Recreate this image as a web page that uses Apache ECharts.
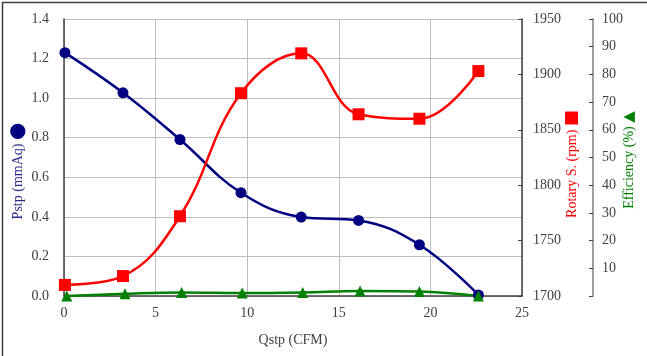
<!DOCTYPE html>
<html>
<head>
<meta charset="utf-8">
<script src="https://cdn.jsdelivr.net/npm/echarts@6/dist/echarts.min.js"></script>
<style>
html,body{margin:0;padding:0;background:#fff;}
#chart{width:647px;height:356px;}
</style>
</head>
<body>
<div id="chart"></div>
<script>
// Data
var qstp = [0.05, 3.22, 6.33, 9.66, 12.95, 16.08, 19.4, 22.62];
var qstpEff = [0.15, 3.33, 6.42, 9.73, 13.03, 16.16, 19.4, 22.62];
var pstp = [1.23, 1.027, 0.791, 0.522, 0.399, 0.382, 0.259, 0.005];
var rotary = [1710, 1718, 1772, 1883, 1919, 1864, 1860, 1903];
var efficiency = [0.0, 0.8, 1.3, 1.1, 1.3, 1.8, 1.6, 0.0];

var xTicks = {min: 0, max: 25, interval: 5};
var pTicks = {min: 0, max: 1.4, interval: 0.2};
var rTicks = {min: 1700, max: 1950, interval: 50};
var eTicks = {min: 0, max: 100, interval: 10};

function pairs(xs, ys) { return xs.map(function (x, i) { return [x, ys[i]]; }); }

var serif = '"Liberation Serif", "Times New Roman", serif';
var tickColor = '#404040';
var chart = echarts.init(document.getElementById('chart'), null, {renderer: 'canvas'});
chart.setOption({
  animation: false,
  backgroundColor: '#fff',
  grid: {left: 64, right: 125, top: 19, bottom: 60, containLabel: false},
  xAxis: {
    type: 'value', min: xTicks.min, max: xTicks.max, interval: xTicks.interval,
    name: 'Qstp (CFM)', nameLocation: 'middle', nameGap: 37,
    nameTextStyle: {fontFamily: serif, fontSize: 14, color: tickColor},
    axisLine: {show: true, lineStyle: {color: '#404040', width: 1.5}},
    axisTick: {show: false},
    axisLabel: {fontFamily: serif, fontSize: 14, color: tickColor, margin: 10},
    splitLine: {show: true, lineStyle: {color: '#bdbdbd', width: 1}}
  },
  yAxis: [
    {
      type: 'value', min: pTicks.min, max: pTicks.max, interval: pTicks.interval,
      position: 'left',
      axisLine: {show: true, lineStyle: {color: '#404040', width: 1.5}},
      axisTick: {show: false},
      axisLabel: {fontFamily: serif, fontSize: 14, color: tickColor, margin: 15,
        formatter: function (v) { return v.toFixed(1); }},
      splitLine: {show: true, lineStyle: {color: '#bdbdbd', width: 1}}
    },
    {
      type: 'value', min: rTicks.min, max: rTicks.max, interval: rTicks.interval,
      position: 'right',
      axisLine: {show: true, lineStyle: {color: '#404040', width: 1.5}},
      axisTick: {show: true, inside: true, length: 4, lineStyle: {color: '#404040'}},
      axisLabel: {fontFamily: serif, fontSize: 14, color: tickColor, margin: 11,
        formatter: function (v) { return String(v); }},
      splitLine: {show: false}
    },
    {
      type: 'value', min: eTicks.min, max: eTicks.max, interval: eTicks.interval,
      position: 'right', offset: 71,
      axisLine: {show: true, lineStyle: {color: '#808080', width: 1.5}},
      axisTick: {show: true, inside: true, length: 4, lineStyle: {color: '#404040'}},
      axisLabel: {fontFamily: serif, fontSize: 14, color: tickColor, margin: 9,
        formatter: function (v) { return v === 0 ? '' : String(v); }},
      splitLine: {show: false}
    }
  ],
  series: [
    {
      type: 'line', yAxisIndex: 0, data: pairs(qstp, pstp), smooth: 0.4,
      symbol: 'circle', symbolSize: 11,
      lineStyle: {color: '#000080', width: 2.5},
      itemStyle: {color: '#000080'}
    },
    {
      type: 'line', yAxisIndex: 1, data: pairs(qstp, rotary), smooth: 0.4,
      symbol: 'rect', symbolSize: 12,
      lineStyle: {color: '#ff0000', width: 2.5},
      itemStyle: {color: '#ff0000'}
    },
    {
      type: 'line', yAxisIndex: 2, data: pairs(qstpEff, efficiency), smooth: 0.4,
      symbol: 'triangle', symbolSize: 11,
      lineStyle: {color: '#008000', width: 2.5},
      itemStyle: {color: '#008000'}
    }
  ],
  graphic: [
    {type: 'rect', left: 0, top: 0, shape: {x: 0.75, y: 0.75, width: 645.5, height: 354.5},
      style: {fill: 'none', stroke: '#404040', lineWidth: 1.5}, silent: true},
    {type: 'text', x: 18, y: 171, rotation: Math.PI / 2,
      style: {text: 'Pstp (mmAq) {m|●}', fontFamily: serif, fontSize: 14, fill: '#2b2b8c',
        align: 'center', verticalAlign: 'middle',
        rich: {m: {fontSize: 20, fill: '#000080', fontFamily: 'DejaVu Sans'}}}},
    {type: 'text', x: 572, y: 164, rotation: Math.PI / 2,
      style: {text: 'Rotary S. (rpm) {m|■}', fontFamily: serif, fontSize: 14, fill: '#ff0000',
        align: 'center', verticalAlign: 'middle',
        rich: {m: {fontSize: 17, fill: '#ff0000', fontFamily: 'DejaVu Sans'}}}},
    {type: 'text', x: 629, y: 160, rotation: Math.PI / 2,
      style: {text: 'Efficiency (%) {m|▲}', fontFamily: serif, fontSize: 14, fill: '#008000',
        align: 'center', verticalAlign: 'middle',
        rich: {m: {fontSize: 15, fill: '#008000', fontFamily: 'DejaVu Sans'}}}}
  ]
});
</script>
</body>
</html>
